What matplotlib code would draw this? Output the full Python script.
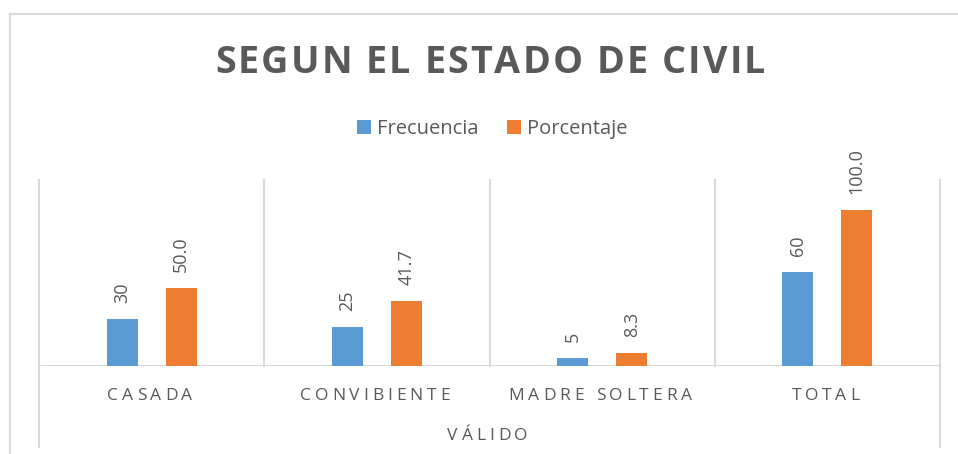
import matplotlib
matplotlib.use("Agg")
import matplotlib.pyplot as plt
import matplotlib.transforms as mtransforms
from matplotlib.font_manager import FontProperties
from matplotlib.lines import Line2D
import numpy as np

# ---- data ----
categories = ["CASADA", "CONVIBIENTE", "MADRE SOLTERA", "TOTAL"]
group_label = "VÁLIDO"
series_names = ["Frecuencia", "Porcentaje"]
frecuencia = [30, 25, 5, 60]
porcentaje = [50.0, 41.7, 8.3, 100.0]
title = "SEGUN EL ESTADO DE CIVIL"

# ---- style ----
BLUE = "#5B9BD5"
ORANGE = "#ED7D31"
TXT = "#595959"
GRID = "#D9D9D9"
FONT = "Open Sans"

W, H = 958, 454
fig = plt.figure(figsize=(W / 100, H / 100), dpi=100)


def fx(px):
    return px / W


def fy(py):
    return 1 - py / H


ax = fig.add_axes([fx(39), fy(366), fx(940) - fx(39), fy(180) - fy(366)])
x = np.arange(len(categories))
bw, off = 0.137, 0.131
b1 = ax.bar(x - off, frecuencia, bw, color=BLUE, label=series_names[0], zorder=3)
b2 = ax.bar(x + off, porcentaje, bw, color=ORANGE, label=series_names[1], zorder=3)
ax.set_xlim(-0.5, len(categories) - 0.5)
ax.set_ylim(0, 119.2)
ax.axis("off")

# baseline and category separators
ax.axhline(0, color=GRID, lw=1.5, zorder=2)
blend = mtransforms.blended_transform_factory(ax.transData, ax.transAxes)
bounds = np.arange(len(categories) + 1) - 0.5
for i, b in enumerate(bounds):
    outer = i == 0 or i == len(bounds) - 1
    y0 = -(447 - 366) / (366 - 180) if outer else 0
    ax.plot([b, b], [y0, 1], transform=blend, color=GRID, lw=1.5, clip_on=False, zorder=1)

# value labels
lab_kw = dict(rotation=90, padding=11.5, color=TXT, fontsize=13, family=FONT)
ax.bar_label(b1, labels=[f"{v:.0f}" for v in frecuencia], **lab_kw)
ax.bar_label(b2, labels=[f"{v:.1f}" for v in porcentaje], **lab_kw)

# legend
fig.legend(handles=[b1, b2], loc="center", bbox_to_anchor=(fx(492), fy(129)), ncol=2,
           frameon=False, handlelength=0.7, handleheight=0.7, handletextpad=0.3,
           columnspacing=1.4, labelcolor=TXT,
           prop=FontProperties(family=FONT, size=14.5))

# chart border (partial, cropped screenshot)
fig.add_artist(Line2D([fx(10), fx(10)], [0, fy(14)], color=GRID, lw=1.5))
fig.add_artist(Line2D([fx(10), 1], [fy(14), fy(14)], color=GRID, lw=1.5))

renderer = fig.canvas.get_renderer()


def adv(c, prop):
    w1 = renderer.get_text_width_height_descent("I" + c + "I", prop, ismath=False)[0]
    w0 = renderer.get_text_width_height_descent("II", prop, ismath=False)[0]
    return w1 - w0


def spaced(text, cx, baseline, prop, target=None, tracking=0.0, trailing=False):
    advs = [adv(c, prop) for c in text]
    n = len(text)
    if target is not None:
        tracking = (target - sum(advs)) / (n - 1)
    total = sum(advs) + (n if trailing else n - 1) * tracking
    pos = cx - total / 2
    for c, a in zip(text, advs):
        fig.text(fx(pos), fy(baseline), c, fontproperties=prop, color=TXT,
                 ha="left", va="baseline")
        pos += a + tracking


title_prop = FontProperties(family=FONT, weight="bold", size=27.2)
spaced(title, 490, 73, title_prop, target=550)

cat_prop = FontProperties(family=FONT, size=12.5)
for i, c in enumerate(categories):
    cx_px = ax.transData.transform((x[i], 0))[0]
    spaced(c, cx_px, 400, cat_prop, tracking=3.8, trailing=True)

ax_cx = (ax.transAxes.transform((0.5, 0))[0])
spaced(group_label, ax_cx, 440, cat_prop, tracking=3.8, trailing=True)

fig.savefig("out.png", dpi=100)
